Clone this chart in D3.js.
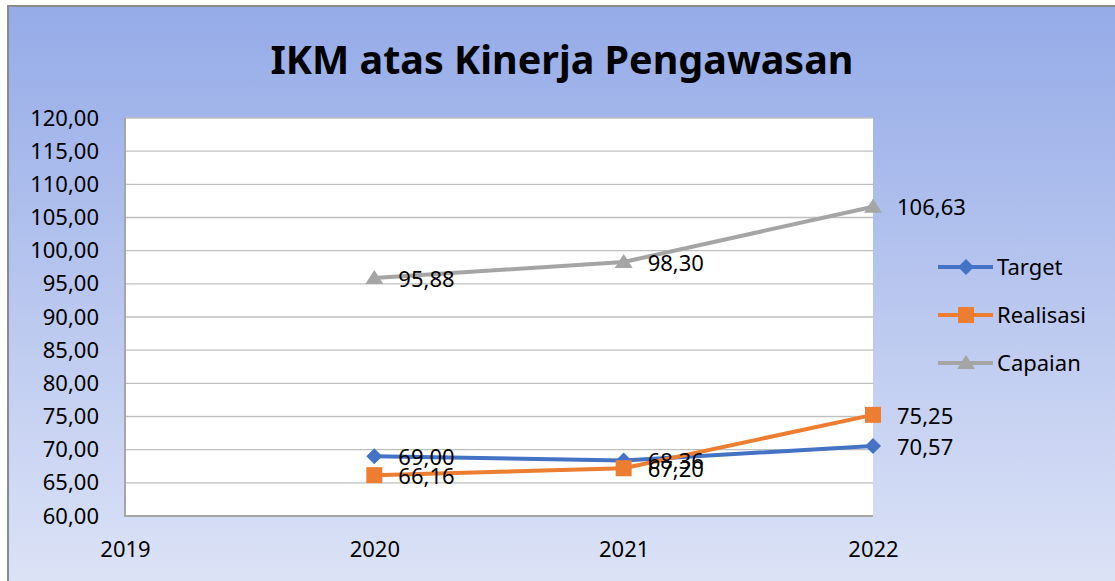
<!DOCTYPE html>
<html>
<head>
<meta charset="utf-8">
<script src="https://cdn.jsdelivr.net/npm/d3@7"></script>
<style>
  html, body { margin: 0; padding: 0; background: #ffffff; }
  svg { display: block; }
  text { font-family: "Noto Sans", "Open Sans", sans-serif; fill: #000; }
</style>
</head>
<body>
<svg id="chart" width="1115" height="581"></svg>
<script>
// ---- data ----
const title = "IKM atas Kinerja Pengawasan";
const years = ["2019", "2020", "2021", "2022"];
const target = [null, 69.00, 68.36, 70.57];
const realisasi = [null, 66.16, 67.20, 75.25];
const capaian = [null, 95.88, 98.30, 106.63];
const seriesNames = ["Target", "Realisasi", "Capaian"];
const yTicks = [60, 65, 70, 75, 80, 85, 90, 95, 100, 105, 110, 115, 120];

const colors = { Target: "#4472C4", Realisasi: "#ED7D31", Capaian: "#A5A5A5" };
const shapes = { Target: "diamond", Realisasi: "square", Capaian: "triangle" };
const seriesData = { Target: target, Realisasi: realisasi, Capaian: capaian };

const svg = d3.select("#chart");
const W = 1115, H = 581;
const plot = { left: 125, right: 873, top: 118, bottom: 516 };

const locale = d3.formatLocale({ decimal: ",", thousands: ".", grouping: [3], currency: ["", ""] });
const fmt = locale.format(".2f");

// background gradient
const defs = svg.append("defs");
const grad = defs.append("linearGradient").attr("id", "bg")
  .attr("x1", 0).attr("y1", 0).attr("x2", 0).attr("y2", 1);
grad.append("stop").attr("offset", "0%").attr("stop-color", "#95ABE8");
grad.append("stop").attr("offset", "100%").attr("stop-color", "#DFE5F7");

svg.append("rect").attr("x", 8).attr("y", 6).attr("width", W + 20).attr("height", H + 20)
  .attr("fill", "url(#bg)").attr("stroke", "#8a8a8a").attr("stroke-width", 2);

// title
svg.append("text").attr("x", 562).attr("y", 60).attr("dy", "0.35em")
  .attr("text-anchor", "middle").attr("font-weight", "bold").attr("font-size", 40)
  .attr("textLength", 583).attr("lengthAdjust", "spacingAndGlyphs")
  .text(title);

// scales
const x = d3.scalePoint().domain(years).range([plot.left, plot.right]).padding(0);
const y = d3.scaleLinear().domain([60, 120]).range([plot.bottom, plot.top]);

// plot area
svg.append("rect").attr("x", plot.left).attr("y", plot.top)
  .attr("width", plot.right - plot.left).attr("height", plot.bottom - plot.top)
  .attr("fill", "#ffffff");

// gridlines
svg.append("g").selectAll("line").data(yTicks.filter(d => d > 60)).join("line")
  .attr("x1", plot.left).attr("x2", plot.right)
  .attr("y1", d => y(d)).attr("y2", d => y(d))
  .attr("stroke", "#BFBFBF").attr("stroke-width", 1.3);

// axis lines (plot area shadow edges)
svg.append("line").attr("x1", plot.left).attr("x2", plot.left)
  .attr("y1", plot.top).attr("y2", plot.bottom + 1)
  .attr("stroke", "#A6A6A6").attr("stroke-width", 2);
svg.append("line").attr("x1", plot.left).attr("x2", plot.right)
  .attr("y1", plot.bottom).attr("y2", plot.bottom)
  .attr("stroke", "#A6A6A6").attr("stroke-width", 2);

// y axis
const yAxis = svg.append("g").attr("transform", `translate(${plot.left},0)`)
  .call(d3.axisLeft(y).tickValues(yTicks).tickFormat(fmt).tickSize(0).tickPadding(26));
yAxis.select(".domain").remove();
yAxis.selectAll("text").attr("font-size", 22).attr("fill", "#000")
  .attr("font-family", "'Noto Sans', sans-serif");

// x axis
const xAxis = svg.append("g").attr("transform", `translate(0,${plot.bottom})`)
  .call(d3.axisBottom(x).tickSize(0));
xAxis.select(".domain").remove();
xAxis.selectAll("text").attr("font-size", 22).attr("fill", "#000")
  .attr("font-family", "'Noto Sans', sans-serif")
  .attr("y", 33).attr("dy", "0.35em");

// marker paths
function markerPath(shape) {
  if (shape === "diamond") return "M0,-8L8,0L0,8L-8,0Z";
  if (shape === "square") return "M-8,-8H8V8H-8Z";
  return "M0,-8L9,6H-9Z";
}

const line = d3.line()
  .defined(d => d.v !== null)
  .x(d => x(d.year)).y(d => y(d.v));

// draw order: Capaian, Target, Realisasi  (as in reference, orange over blue)
const drawOrder = ["Capaian", "Target", "Realisasi"];
drawOrder.forEach(name => {
  const pts = years.map((yr, i) => ({ year: yr, v: seriesData[name][i] }));
  const g = svg.append("g");
  g.append("path").datum(pts).attr("d", line)
    .attr("fill", "none").attr("stroke", colors[name]).attr("stroke-width", 4)
    .attr("stroke-linejoin", "round");
  g.selectAll("path.m").data(pts.filter(d => d.v !== null)).join("path")
    .attr("class", "m")
    .attr("d", markerPath(shapes[name]))
    .attr("transform", d => `translate(${x(d.year)},${y(d.v)})`)
    .attr("fill", colors[name]);
});

// data labels
seriesNames.forEach(name => {
  const pts = years.map((yr, i) => ({ year: yr, v: seriesData[name][i] })).filter(d => d.v !== null);
  svg.append("g").selectAll("text").data(pts).join("text")
    .attr("x", d => x(d.year) + 24).attr("y", d => y(d.v) + 1).attr("dy", "0.35em")
    .attr("font-size", 22)
    .text(d => fmt(d.v));
});

// legend
const legendY = [267, 315, 363];
seriesNames.forEach((name, i) => {
  const g = svg.append("g").attr("transform", `translate(0,${legendY[i]})`);
  g.append("line").attr("x1", 938).attr("x2", 993).attr("y1", 0).attr("y2", 0)
    .attr("stroke", colors[name]).attr("stroke-width", 4);
  g.append("path").attr("d", markerPath(shapes[name]))
    .attr("transform", "translate(966,0)").attr("fill", colors[name]);
  g.append("text").attr("x", 997).attr("y", 0).attr("dy", "0.35em")
    .attr("font-size", 22).text(name);
});
</script>
</body>
</html>
